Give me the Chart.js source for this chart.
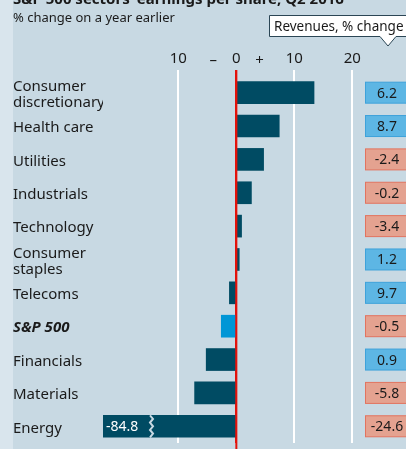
<!DOCTYPE html>
<html>
<head>
<meta charset="utf-8">
<script src="https://cdn.jsdelivr.net/npm/chart.js@4/dist/chart.umd.min.js"></script>
<style>
  html, body { margin: 0; padding: 0; overflow: hidden; }
  body { width: 406px; height: 449px; background: linear-gradient(to right, #d9e5ed 13px, #c8d9e3 13px); }
  #wrap { position: relative; width: 406px; height: 459px; }
</style>
</head>
<body>
<div id="wrap"><canvas id="epsChart"></canvas></div>
<script>
const sectors = [
  ['Consumer', 'discretionary'], 'Health care', 'Utilities', 'Industrials', 'Technology',
  ['Consumer', 'staples'], 'Telecoms', 'S&P 500', 'Financials', 'Materials', 'Energy'
];
const epsChange = [13.4, 7.4, 4.7, 2.6, 0.9, 0.5, -1.2, -2.6, -5.2, -7.2, -84.8];
const revenueChange = [6.2, 8.7, -2.4, -0.2, -3.4, 1.2, 9.7, -0.5, 0.9, -5.8, -24.6];
const xTicks = [-10, 0, 10, 20];
const totalLabel = 'S&P 500';

const FONT = "'Noto Sans', sans-serif";
const INK = '#1a1a1a';

// title, callout, revenue boxes and other bits around the bars
const decor = {
  id: 'decor',
  afterDatasetsDraw(chart) {
    const { ctx, chartArea, scales } = chart;
    const x = scales.x;
    const y = scales.y;
    const meta = chart.getDatasetMeta(0);

    // broken bars: value label + zigzag
    epsChange.forEach((v, i) => {
      if (v >= x.min) return;
      const bar = meta.data[i];
      const top = bar.y - bar.height / 2;
      const bottom = bar.y + bar.height / 2;
      ctx.save();
      ctx.fillStyle = '#ffffff';
      ctx.font = '14px ' + FONT;
      ctx.textBaseline = 'middle';
      ctx.textAlign = 'left';
      ctx.fillText(v.toFixed(1), chartArea.left + 3, bar.y + 1);
      const zx = chartArea.left + 47;
      ctx.strokeStyle = '#c8d9e3';
      ctx.lineWidth = 2;
      ctx.beginPath();
      ctx.moveTo(zx, top);
      const steps = 6;
      for (let k = 1; k <= steps; k++) {
        ctx.lineTo(zx + (k % 2 ? 3 : 0), top + (bottom - top) * k / steps);
      }
      ctx.stroke();
      ctx.restore();
    });

    // zero line on top of bars
    const zero = x.getPixelForValue(0);
    ctx.save();
    ctx.strokeStyle = '#e3120b';
    ctx.lineWidth = 2;
    ctx.beginPath();
    ctx.moveTo(zero, chartArea.top - 6);
    ctx.lineTo(zero, chart.height);
    ctx.stroke();

    // - / + signs either side of zero
    ctx.fillStyle = INK;
    ctx.font = '15px ' + FONT;
    ctx.textAlign = 'center';
    ctx.textBaseline = 'bottom';
    const ty = chartArea.top - 8;
    ctx.fillText('\u2013', x.getPixelForValue(-4), ty);
    ctx.fillText('+', x.getPixelForValue(4), ty);

    // title (cut off at the top) and subtitle
    ctx.textAlign = 'left';
    ctx.textBaseline = 'alphabetic';
    ctx.font = 'bold 15px ' + FONT;
    ctx.fillText("S&P 500 sectors\u2019 earnings per share, Q2 2016", 13, 4);
    ctx.font = '13px ' + FONT;
    ctx.fillText('% change on a year earlier', 13, 22);

    // callout
    ctx.fillStyle = '#ffffff';
    ctx.strokeStyle = '#2b4655';
    ctx.lineWidth = 1;
    ctx.beginPath();
    ctx.moveTo(380, 36.5);
    ctx.lineTo(269.5, 36.5);
    ctx.lineTo(269.5, 15.5);
    ctx.lineTo(412, 15.5);
    ctx.lineTo(412, 36.5);
    ctx.lineTo(396, 36.5);
    ctx.lineTo(388, 46);
    ctx.closePath();
    ctx.fill();
    ctx.stroke();
    ctx.fillStyle = INK;
    ctx.font = '13.5px ' + FONT;
    ctx.fillText('Revenues, % change', 274, 31);

    // revenue boxes
    ctx.textAlign = 'center';
    ctx.textBaseline = 'middle';
    ctx.font = '14px ' + FONT;
    revenueChange.forEach((v, i) => {
      const cy = y.getPixelForValue(i);
      const up = v >= 0;
      ctx.fillStyle = up ? '#5db6e4' : '#e4a290';
      ctx.strokeStyle = up ? '#3ea2da' : '#e2735f';
      ctx.fillRect(365.5, cy - 10.5, 46, 21);
      ctx.strokeRect(365.5, cy - 10.5, 46, 21);
      ctx.fillStyle = INK;
      ctx.fillText(v.toFixed(1), 387, cy + 1);
    });
    ctx.restore();
  }
};

const ctx = document.getElementById('epsChart').getContext('2d');
const epsChart = new Chart(ctx, {
  type: 'bar',
  data: {
    labels: sectors,
    datasets: [
      {
        label: 'EPS, % change',
        data: epsChange,
        backgroundColor: (c) => sectors[c.dataIndex] === totalLabel ? '#0096d6' : '#004b63',
        borderWidth: 0,
        barThickness: 22,
      },
    ],
  },
  options: {
    indexAxis: 'y',
    responsive: true,
    maintainAspectRatio: false,
    animation: false,
    layout: { padding: { left: 13, right: 45, top: 0, bottom: 0 } },
    plugins: {
      legend: { display: false },
      tooltip: { enabled: false },
    },
    scales: {
      x: {
        position: 'top',
        min: -23,
        max: 21.5,
        afterBuildTicks: (s) => { s.ticks = xTicks.map((v) => ({ value: v })); },
        afterFit: (s) => { s.height = 76; },
        border: { display: false },
        grid: {
          color: (c) => c.tick && c.tick.value === 0 ? '#e3120b' : '#ffffff',
          lineWidth: 2,
          drawTicks: true,
          tickLength: 6,
        },
        ticks: {
          color: INK,
          font: { family: FONT, size: 15 },
          padding: 2,
          maxRotation: 0,
          autoSkip: false,
          callback: (v) => Math.abs(v),
        },
      },
      y: {
        afterFit: (s) => { s.width = 90; },
        border: { display: false },
        grid: { display: false },
        ticks: {
          crossAlign: 'far',
          padding: 0,
          labelOffset: 2,
          autoSkip: false,
          color: INK,
          font: (c) => sectors[c.index] === totalLabel
            ? { family: FONT, size: 15, style: 'italic', weight: 'bold', lineHeight: 1.07 }
            : { family: FONT, size: 15, lineHeight: 1.07 },
        },
      },
    },
  },
  plugins: [decor],
});
</script>
</body>
</html>
